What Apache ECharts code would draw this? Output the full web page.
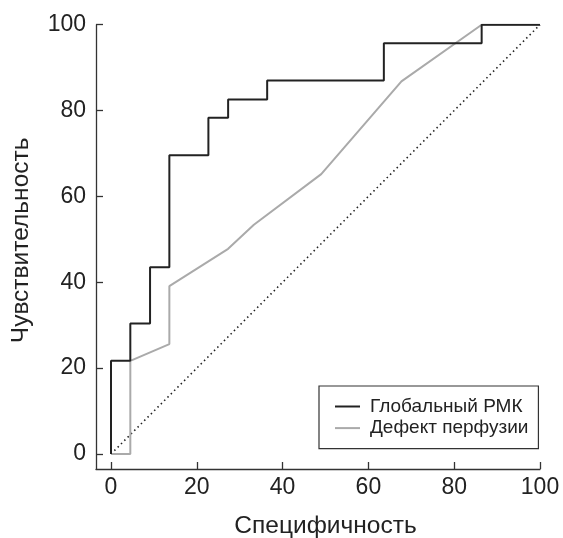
<!DOCTYPE html>
<html><head><meta charset="utf-8">
<script src="https://cdn.jsdelivr.net/npm/echarts@6/dist/echarts.min.js"></script>
<style>html,body{margin:0;padding:0;background:#fff}#c{width:563px;height:538px}</style>
</head><body><div id="c"></div>
<script>
// Data
const seriesNames = ['Глобальный РМК', 'Дефект перфузии'];
const globalX = [0, 0, 4.5, 4.5, 9.1, 9.1, 13.6, 13.6, 22.7, 22.7, 27.3, 27.3, 36.4, 36.4, 63.6, 63.6, 86.4, 86.4, 100];
const globalY = [0, 21.7, 21.7, 30.4, 30.4, 43.5, 43.5, 69.6, 69.6, 78.3, 78.3, 82.6, 82.6, 87.0, 87.0, 95.7, 95.7, 100, 100];
const perfX = [0, 4.5, 4.5, 13.6, 13.6, 27.3, 33.3, 49.0, 67.7, 86.4, 100];
const perfY = [0, 0, 21.7, 25.6, 39.1, 47.8, 53.4, 65.2, 86.8, 100, 100];
const diagX = [0, 100];
const diagY = [0, 100];
const tickValues = [0, 20, 40, 60, 80, 100];
const xTitle = 'Специфичность';
const yTitle = 'Чувствительность';

const zip = (a, b) => a.map((v, i) => [v, b[i]]);
const font = 'Liberation Sans, Arial, sans-serif';
const axisCommon = {
  type: 'value', min: -3.5, max: 100,
  axisLine: { show: true, onZero: false, lineStyle: { color: '#333', width: 1.3 } },
  axisTick: { show: true, inside: true, length: 7, customValues: tickValues, lineStyle: { color: '#333', width: 1.3 } },
  axisLabel: { customValues: tickValues, fontSize: 23, color: '#222', fontFamily: font },
  splitLine: { show: false },
  nameLocation: 'middle',
  nameTextStyle: { fontSize: 24.5, color: '#222', fontFamily: font }
};
const chart = echarts.init(document.getElementById('c'), null, { renderer: 'canvas' });
chart.setOption({
  animation: false,
  backgroundColor: '#fff',
  grid: { left: 96, right: 23, top: 24.7, bottom: 69, containLabel: false, outerBoundsMode: 'none' },
  xAxis: Object.assign({}, axisCommon, {
    name: xTitle, nameGap: 45,
    axisLabel: Object.assign({}, axisCommon.axisLabel, { margin: 7 }),
    nameTextStyle: Object.assign({}, axisCommon.nameTextStyle, { padding: [0, 0, 0, 15] })
  }),
  yAxis: Object.assign({}, axisCommon, {
    name: yTitle, nameGap: 62,
    axisLabel: Object.assign({}, axisCommon.axisLabel, { margin: 10 }),
    nameTextStyle: Object.assign({}, axisCommon.nameTextStyle, { padding: [0, 0, 0, 13] })
  }),
  legend: {
    data: seriesNames,
    orient: 'vertical',
    left: 319, top: 386,
    padding: [11, 10, 11, 16],
    icon: 'path://M0,0L25,0L25,2L0,2Z',
    itemWidth: 25, itemHeight: 14, itemGap: 2.6,
    borderColor: '#333', borderWidth: 1.2,
    textStyle: { fontSize: 19, lineHeight: 19, color: '#222', fontFamily: font, padding: [0, 0, 0, 5] }
  },
  series: [
    { name: 'diag', type: 'line', data: zip(diagX, diagY), symbol: 'none', silent: true,
      lineStyle: { color: '#222', width: 1.6, type: [1.5, 3.2] }, z: 1 },
    { name: seriesNames[1], type: 'line', data: zip(perfX, perfY), symbol: 'none',
      itemStyle: { color: '#aaa' }, lineStyle: { color: '#aaa', width: 2 }, z: 2 },
    { name: seriesNames[0], type: 'line', data: zip(globalX, globalY), symbol: 'none',
      itemStyle: { color: '#222' }, lineStyle: { color: '#222', width: 2 }, z: 3 }
  ]
});
</script></body></html>
